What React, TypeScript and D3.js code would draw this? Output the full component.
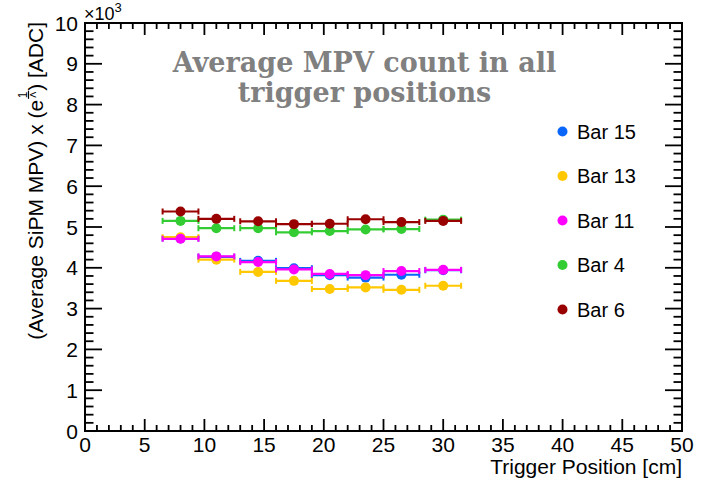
import React, { useEffect, useRef } from 'react';
import * as d3 from 'd3';

const W = 714;
const H = 482;

// Trigger positions along the bar (cm) and the half width of each position bin
const triggerPositions = [8, 11, 14.5, 17.5, 20.5, 23.5, 26.5, 30];
const positionHalfWidths = [1.5, 1.5, 1.5, 1.5, 1.5, 1.5, 1.5, 1.5];

// Average MPV per trigger position (ADC)
const bar15 = [4720, 4270, 4170, 3990, 3820, 3760, 3830, 3940];
const bar13 = [4750, 4200, 3900, 3680, 3480, 3520, 3460, 3560];
const bar11 = [4710, 4280, 4140, 3960, 3850, 3820, 3920, 3950];
const bar4 = [5150, 4970, 4970, 4870, 4900, 4940, 4950, 5180];
const bar6 = [5380, 5200, 5140, 5070, 5080, 5190, 5120, 5150];

const seriesNames = ['Bar 15', 'Bar 13', 'Bar 11', 'Bar 4', 'Bar 6'];
const seriesValues = [bar15, bar13, bar11, bar4, bar6];
const seriesColors = ['#0a66fa', '#ffc800', '#ff00ff', '#33cc33', '#990000'];

const xTickValues = [0, 5, 10, 15, 20, 25, 30, 35, 40, 45, 50];
const yTickLabels = ['0', '1', '2', '3', '4', '5', '6', '7', '8', '9', '10'];

const titleLines = ['Average MPV count in all', 'trigger positions'];
const xTitle = 'Trigger Position [cm]';

const SANS = '"Liberation Sans", Arial, Helvetica, sans-serif';

export default function App() {
  const ref = useRef<SVGSVGElement>(null);

  useEffect(() => {
    const svg = d3.select(ref.current);
    svg.selectAll('*').remove();

    const left = 85, right = 682, top = 23, bottom = 431;
    const x = d3.scaleLinear().domain([0, 50]).range([left, right]);
    const y = d3.scaleLinear().domain([0, 10000]).range([bottom, top]);

    svg.append('rect').attr('width', W).attr('height', H).attr('fill', '#fff');

    const axes = svg.append('g').attr('stroke', '#000').attr('stroke-width', 1.8);

    // x ticks: majors every 5 cm, minors every 1 cm, on bottom and top edges
    d3.range(0, 51, 1).forEach((v) => {
      const major = v % 5 === 0;
      const len = major ? 12 : 6;
      const px = x(v);
      axes.append('line').attr('x1', px).attr('x2', px).attr('y1', bottom).attr('y2', bottom - len);
      axes.append('line').attr('x1', px).attr('x2', px).attr('y1', top).attr('y2', top + len);
    });

    // y ticks: majors every 1000, minors every 200, on left and right edges
    d3.range(0, 10001, 200).forEach((v) => {
      const major = v % 1000 === 0;
      const len = major ? 17 : 8.5;
      const py = y(v);
      axes.append('line').attr('x1', left).attr('x2', left + len).attr('y1', py).attr('y2', py);
      axes.append('line').attr('x1', right).attr('x2', right - len).attr('y1', py).attr('y2', py);
    });

    svg.append('rect')
      .attr('x', left).attr('y', top)
      .attr('width', right - left).attr('height', bottom - top)
      .attr('fill', 'none').attr('stroke', '#000').attr('stroke-width', 2);

    // tick labels
    const labels = svg.append('g').attr('font-family', SANS).attr('font-size', 21).attr('fill', '#000');
    xTickValues.forEach((v) => {
      labels.append('text').attr('x', x(v)).attr('y', 452).attr('text-anchor', 'middle').text(String(v));
    });
    yTickLabels.forEach((t, i) => {
      labels.append('text').attr('x', 78).attr('y', y(i * 1000) + 7.5).attr('text-anchor', 'end').text(t);
    });

    // exponent factor
    const exp = svg.append('text').attr('x', 84).attr('y', 20).attr('font-family', SANS).attr('font-size', 18);
    exp.append('tspan').text('×10');
    exp.append('tspan').attr('font-size', 13).attr('dy', -8).text('3');

    // x title
    svg.append('text')
      .attr('x', right).attr('y', 474).attr('text-anchor', 'end')
      .attr('font-family', SANS).attr('font-size', 21).text(xTitle);

    // y title, rotated, with exponent fraction after "e"
    const yt = svg.append('g').attr('transform', `translate(43, ${top - 1}) rotate(-90)`);
    const mainText = yt.append('text')
      .attr('font-family', SANS).attr('font-size', 21).attr('x', 0).attr('y', 0);
    const part1 = mainText.append('tspan').text('(Average SiPM MPV) x (e');
    const supGap = 9;
    mainText.append('tspan').attr('dx', supGap).text(') [ADC]');
    const node = mainText.node() as SVGTextElement;
    const total = node.getComputedTextLength() + supGap;
    mainText.attr('x', -total);
    const p1 = (part1.node() as SVGTSpanElement).getComputedTextLength();
    const supX = -total + p1 + 1;
    yt.append('text').attr('font-family', SANS).attr('font-size', 12)
      .attr('x', supX + 4).attr('y', -16).attr('text-anchor', 'middle').text('1');
    yt.append('line').attr('x1', supX).attr('x2', supX + 8).attr('y1', -14.5).attr('y2', -14.5)
      .attr('stroke', '#000').attr('stroke-width', 1.2);
    yt.append('text').attr('font-family', SANS).attr('font-size', 9)
      .attr('x', supX + 4).attr('y', -7.5).attr('text-anchor', 'middle').text('Λ');

    // title
    const title = svg.append('g')
      .attr('font-family', '"DejaVu Serif", serif').attr('font-weight', 'bold')
      .attr('font-size', 27).attr('fill', '#808080').attr('text-anchor', 'middle');
    titleLines.forEach((line, i) => {
      title.append('text').attr('x', 364.5).attr('y', 72 + i * 30).text(line);
    });

    // data: horizontal error bars with end caps and circular markers
    const plot = svg.append('g');
    seriesValues.forEach((vals, si) => {
      const color = seriesColors[si];
      const g = plot.append('g');
      vals.forEach((v, i) => {
        const cx = x(triggerPositions[i]);
        const cy = y(v);
        const x0 = x(triggerPositions[i] - positionHalfWidths[i]);
        const x1 = x(triggerPositions[i] + positionHalfWidths[i]);
        g.append('line').attr('x1', x0).attr('x2', x1).attr('y1', cy).attr('y2', cy)
          .attr('stroke', color).attr('stroke-width', 2.2);
        [x0, x1].forEach((ex) => {
          g.append('line').attr('x1', ex).attr('x2', ex).attr('y1', cy - 3).attr('y2', cy + 3)
            .attr('stroke', color).attr('stroke-width', 2);
        });
        g.append('circle').attr('cx', cx).attr('cy', cy).attr('r', 5).attr('fill', color);
      });
    });

    // legend
    const legend = svg.append('g').attr('font-family', SANS).attr('font-size', 20);
    seriesNames.forEach((name, i) => {
      const ly = 131.5 + i * 44.5;
      legend.append('circle').attr('cx', 562.5).attr('cy', ly).attr('r', 5).attr('fill', seriesColors[i]);
      legend.append('text').attr('x', 577).attr('y', ly + 7).text(name);
    });
  }, []);

  return (
    <svg
      ref={ref}
      width={W}
      height={H}
      style={{ position: 'absolute', left: 0, top: 0, display: 'block' }}
    />
  );
}
